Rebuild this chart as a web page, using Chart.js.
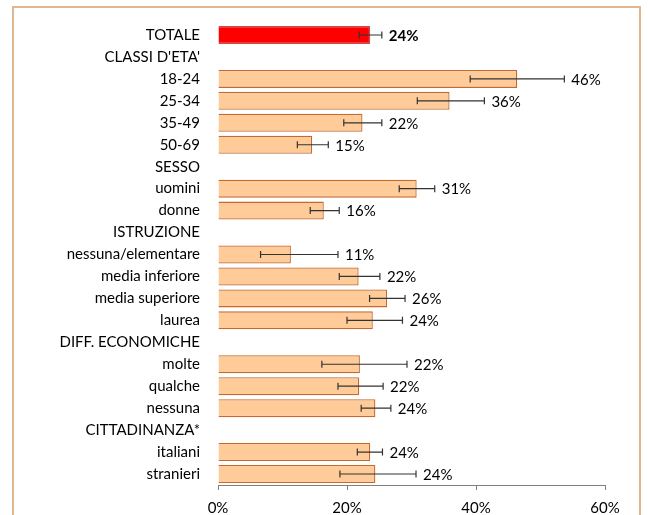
<!DOCTYPE html>
<html><head><meta charset="utf-8">
<script src="https://cdn.jsdelivr.net/npm/chart.js@4/dist/chart.umd.min.js"></script>
<style>
html,body{margin:0;padding:0;background:#fff;}
#wrap{position:relative;width:648px;height:515px;}
#frame{position:absolute;left:12px;top:6px;width:629px;height:520px;border:2px solid #E0B88E;box-sizing:border-box;pointer-events:none;}
canvas{position:absolute;left:0;top:0;}
</style></head>
<body><div id="wrap"><canvas id="c" width="648" height="515"></canvas><div id="frame"></div></div>
<script>
const categories = ["TOTALE","CLASSI D'ETA'","18-24","25-34","35-49","50-69","SESSO","uomini","donne","ISTRUZIONE","nessuna/elementare","media inferiore","media superiore","laurea","DIFF. ECONOMICHE","molte","qualche","nessuna","CITTADINANZA*","italiani","stranieri"];
const values   = [23.6, null, 46.4, 35.9, 22.4, 14.6, null, 30.8, 16.4, null, 11.3, 21.8, 26.2, 24.0, null, 22.0, 21.9, 24.4, null, 23.6, 24.4];
const errLow   = [21.9, null, 39.1, 30.9, 19.5, 12.3, null, 28.1, 14.3, null, 6.6, 18.8, 23.5, 20.0, null, 16.1, 18.6, 22.2, null, 21.6, 18.9];
const errHigh  = [25.4, null, 53.7, 41.3, 25.4, 17.1, null, 33.6, 18.8, null, 18.6, 25.1, 29.0, 28.6, null, 29.3, 25.6, 26.8, null, 25.5, 30.7];
const xTicks   = [0, 20, 40, 60];

const FONT = "Lato, 'Liberation Sans', sans-serif";
const fills = values.map((v,i)=> i===0 ? '#FF0000' : '#FFCC99');
const borders = values.map((v,i)=> i===0 ? '#C0504D' : '#C5692F');

const errPlugin = {
  id:'err',
  afterDatasetsDraw(chart){
    const ctx = chart.ctx, xs = chart.scales.x, ys = chart.scales.y;
    ctx.save();
    for(let i=0;i<values.length;i++){
      if(values[i]==null) continue;
      const y = ys.getPixelForValue(i);
      const x1 = xs.getPixelForValue(errLow[i]), x2 = xs.getPixelForValue(errHigh[i]);
      ctx.strokeStyle = '#333333'; ctx.lineWidth = 1.2;
      ctx.beginPath();
      ctx.moveTo(x1,y); ctx.lineTo(x2,y);
      ctx.moveTo(x1,y-3.5); ctx.lineTo(x1,y+3.5);
      ctx.moveTo(x2,y-3.5); ctx.lineTo(x2,y+3.5);
      ctx.stroke();
      ctx.fillStyle = '#000';
      ctx.font = (i===0?'bold ':'') + '15px ' + FONT;
      ctx.textAlign='left'; ctx.textBaseline='middle';
      ctx.fillText(Math.round(values[i])+'%', x2+7, y+1);
    }
    ctx.restore();
  }
};

new Chart(document.getElementById('c'), {
  type:'bar',
  data:{ labels:categories, datasets:[{ data:values, backgroundColor:fills, borderColor:borders, borderWidth:1.3, barPercentage:0.82, categoryPercentage:1 }]},
  options:{
    indexAxis:'y', responsive:false, animation:false,
    layout:{ padding:{ top:24, right:43, left:0, bottom:0 } },
    plugins:{ legend:{display:false}, tooltip:{enabled:false} },
    scales:{
      x:{ min:0, max:60, afterBuildTicks(s){ s.ticks = xTicks.map(v=>({value:v})); },
          afterFit(s){ s.height = 30; },
          grid:{ drawOnChartArea:false, drawTicks:true, tickLength:5, color:'#808080' },
          border:{ color:'#808080', width:1 },
          ticks:{ padding:9, color:'#000', font:{ family:FONT, size:15 }, callback:(v)=>v+'%' } },
      y:{ afterFit(s){ s.width = 218; },
          grid:{ display:false }, border:{ display:false },
          ticks:{ padding:10, color:'#000', autoSkip:false, font:{ family:FONT, size:15 } } }
    }
  },
  plugins:[errPlugin]
});
</script></body></html>
